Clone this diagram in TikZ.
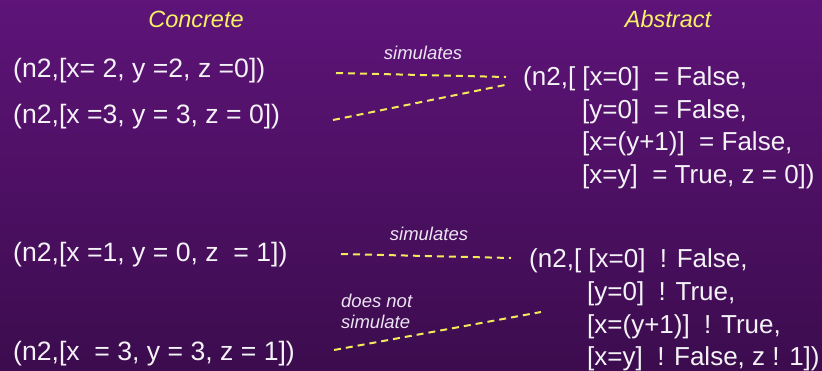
\documentclass[tikz,border=0pt]{standalone}
\usepackage{fontspec}
\setmainfont{Liberation Sans}
\definecolor{bgtop}{HTML}{5E1479}
\definecolor{bgbot}{HTML}{3C0C4E}
\definecolor{txt}{HTML}{F4F2F6}
\definecolor{head}{HTML}{F6F066}
\definecolor{dash}{HTML}{F2EA5A}
\definecolor{lbl}{HTML}{ECE4F2}
\tikzset{
  maintxt/.style={anchor=base west, inner sep=0pt, text=txt, font=\fontsize{26}{30}\selectfont},
  lefttxt/.style={maintxt, font=\fontsize{26.6}{30}\selectfont},
  headtxt/.style={anchor=base, inner sep=0pt, text=head, font=\fontsize{23.5}{28}\selectfont\itshape},
  labeltxt/.style={inner sep=0pt, text=lbl, font=\fontsize{18.5}{22}\selectfont\itshape},
  simline/.style={draw=dash, line width=2pt, dash pattern=on 7pt off 5pt}
}
\begin{document}
\begin{tikzpicture}[x=1pt,y=-1pt]
\useasboundingbox (0,0) rectangle (822,370);
\shade[top color=bgtop, bottom color=bgbot] (0,0) rectangle (822,370);
% headings
\node[headtxt] (hc) at (196,27) {Concrete};
\node[headtxt] (ha) at (668,27) {Abstract};
% concrete states
\node[lefttxt] (c1) at (13,77) {(n2,[x= 2, y =2, z =0])};
\node[lefttxt] (c2) at (13,123) {(n2,[x =3, y = 3, z = 0])};
\node[lefttxt] (c3) at (13,261) {(n2,[x =1, y = 0, z\ \ = 1])};
\node[lefttxt] (c4) at (13,360) {(n2,[x\ \ = 3, y = 3, z = 1])};
% abstract state 1
\node[maintxt] (a1) at (523,85) {(n2,[ [x=0]\ \ = False,};
\node[maintxt] (a1b) at (582,118) {[y=0]\ \ = False,};
\node[maintxt] (a1c) at (582,150) {[x=(y+1)]\ \ = False,};
\node[maintxt] (a1d) at (582,183) {[x=y]\ \ = True, z = 0])};
% abstract state 2
\node[maintxt] (a2) at (529,267) {(n2,[ [x=0]\ \ ! False,};
\node[maintxt] (a2b) at (587,300) {[y=0]\ \ ! True,};
\node[maintxt] (a2c) at (587,333) {[x=(y+1)]\ \ ! True,};
\node[maintxt] (a2d) at (587,365) {[x=y]\ \ ! False, z ! 1])};
% labels
\node[labeltxt, anchor=base] (s1) at (423,59) {simulates};
\node[labeltxt, anchor=base] (s2) at (429,240) {simulates};
\node[labeltxt, anchor=base west] (s3) at (341,307) {does not};
\node[labeltxt, anchor=base west] (s4) at (341,328) {simulate};
% connector end points
\coordinate (p1s) at (336,73);
\coordinate (p1e) at (506,77);
\coordinate (p2s) at (333,120);
\coordinate (p2e) at (505,85);
\coordinate (p3s) at (341,254);
\coordinate (p3e) at (511,258);
\coordinate (p4s) at (334,350);
\coordinate (p4e) at (541,312);
\draw[simline] (p1s) -- (p1e);
\draw[simline] (p2s) -- (p2e);
\draw[simline] (p3s) -- (p3e);
\draw[simline] (p4s) -- (p4e);
\end{tikzpicture}
\end{document}
